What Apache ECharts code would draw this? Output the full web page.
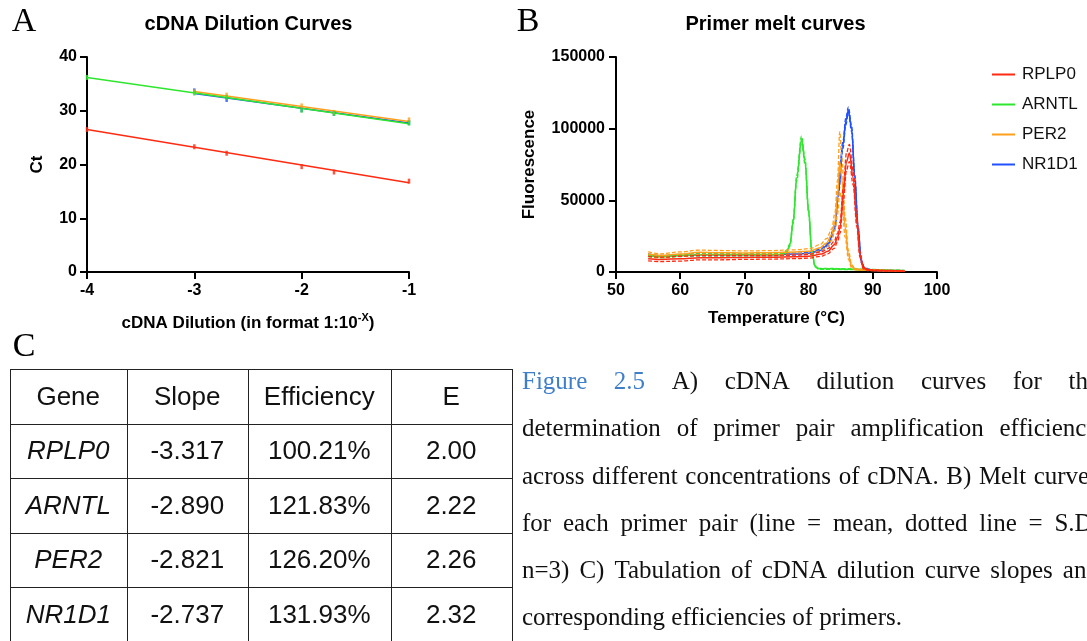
<!DOCTYPE html>
<html><head><meta charset="utf-8">
<script src="https://cdn.jsdelivr.net/npm/echarts@6/dist/echarts.min.js"></script>
<style>
html,body{margin:0;padding:0;width:1087px;height:641px;overflow:hidden;background:#fff;}
#chart{position:absolute;left:0;top:0;width:1087px;height:641px;}
#tbl{position:absolute;left:10px;top:369px;width:502px;height:280px;border-left:1.5px solid #222;border-top:1.5px solid #222;box-sizing:border-box;font-family:'Liberation Sans',Arial,sans-serif;font-size:26px;color:#111;}
.cell{position:absolute;box-sizing:border-box;border-right:1.5px solid #222;border-bottom:1.5px solid #222;display:flex;align-items:center;justify-content:center;}
#caption{position:absolute;left:522px;top:357px;width:577px;font-family:'Liberation Serif','Times New Roman',serif;font-size:25px;line-height:47.3px;color:#111;}
.ln{display:flex;justify-content:space-between;white-space:nowrap;height:47.3px;}
.ln.last{justify-content:flex-start;}
.ln.last span{margin-right:6.25px;}
.blue{color:#3f7fc8;}
</style>
</head><body>
<div id="chart"></div>
<div id="tbl"></div>
<div id="caption"></div>
<script>
// ---------- Panel A: cDNA dilution curves ----------
const dilutions = [-4, -3, -2.699, -2, -1.699, -1];
const ctRPLP0 = [26.5, 23.3, 22.1, 19.6, 18.6, 16.9];
const ctARNTL = [36.2, 33.3, 32.5, 30.1, 29.5, 27.7];
const ctPER2  = [null, 33.5, 32.9, 30.9, 29.7, 28.3];
const ctNR1D1 = [null, 33.7, 32.1, 30.2, 29.5, 27.8];
// fitted regression line end points [x, Ct]
const fitRPLP0 = [[-4, 26.5], [-1, 16.6]];
const fitARNTL = [[-4, 36.2], [-1, 27.6]];
const fitPER2  = [[-3, 33.6], [-1, 28.0]];
const fitNR1D1 = [[-3, 33.2], [-1, 27.7]];

// ---------- Panel B: melt curves (mean and S.D.) ----------
const rplp0T    = [55,57,60,63,66,70,74,78,80,82,83,84,84.5,84.9,85.4,85.9,86.35,86.95,87.5,88,88.5,89,90,92,95];
const rplp0Mean = [9300,8800,9300,10000,10000,10200,10300,10600,11000,12500,14500,19000,24000,31000,54000,77000,83000,65600,35400,12200,3000,1800,1200,900,600];
const rplp0Sd   = [1600,1500,1700,1500,1500,1400,1300,1300,1300,1500,1800,2500,3000,4000,5000,6000,6000,5000,3500,2000,800,400,300,200,200];

const arntlT    = [55,57,60,63,66,70,74,76,76.6,77.1,77.6,78.15,78.9,79.45,80,80.5,81,81.6,83,86,88,90,92,95];
const arntlMean = [11500,10500,11500,12000,12000,12000,12000,12200,14500,19000,35400,65600,92700,77000,42300,14500,4000,2200,2200,2000,1800,1500,1200,900];
const arntlSd   = [800,600,700,700,700,700,700,700,800,1000,1500,2000,2000,2000,1500,800,400,300,300,300,300,300,200,200];

const per2T     = [55,57,60,63,66,70,74,78,80.2,81.8,82.8,83.6,84.1,84.5,84.85,85.15,85.7,86.2,86.7,87.2,88,90,92,95];
const per2Mean  = [12500,11500,12500,13800,13500,13300,13500,14000,14500,17000,20300,26000,35000,52000,77000,66000,31000,12000,4000,2000,1500,1200,1000,800];
const per2Sd    = [1500,1200,1500,1500,1500,1400,1400,1500,1800,2200,3000,4000,6000,12000,21000,15000,7000,3000,1200,500,300,200,200,200];

const nr1d1T    = [55,57,60,63,66,70,74,78,80,81.8,83,84.1,84.6,85.35,85.8,86.2,86.7,87.2,87.7,88.2,88.7,90,92,95];
const nr1d1Mean = [12000,11000,11500,12000,12000,12000,12000,12500,13000,15000,19000,30700,54000,88700,105000,113000,100000,65600,30700,7500,2500,1200,1000,800];
const nr1d1Sd   = [600,500,600,600,600,600,600,600,700,800,1000,1500,2000,2500,2500,2000,2000,2000,1500,800,300,200,200,200];

const geneNames = ['RPLP0', 'ARNTL', 'PER2', 'NR1D1'];
const xTicksA = [-4, -3, -2, -1];
const yTicksA = [0, 10, 20, 30, 40];

// ---------- Panel C: table ----------
const tblHeader = ['Gene', 'Slope', 'Efficiency', 'E'];
const tblSlope = ['-3.317', '-2.890', '-2.821', '-2.737'];
const tblEff = ['100.21%', '121.83%', '126.20%', '131.93%'];
const tblE = ['2.00', '2.22', '2.26', '2.32'];

const captionLines = [
  'Figure 2.5 A) cDNA dilution curves for the',
  'determination of primer pair amplification efficiency',
  'across different concentrations of cDNA. B) Melt curves',
  'for each primer pair (line = mean, dotted line = S.D.',
  'n=3) C) Tabulation of cDNA dilution curve slopes and',
  'corresponding efficiencies of primers.'
];

const colors = {RPLP0: '#ff2a10', ARNTL: '#2ee62e', PER2: '#ff9f1c', NR1D1: '#2050ff'};
const FONT = 'Liberation Sans, Arial, sans-serif';

function zip(xs, ys) { return xs.map((x, i) => [x, ys[i]]); }

function axisBase() {
  return {
    axisLine: {show: true, onZero: false, lineStyle: {color: '#000', width: 2}},
    axisTick: {show: true, length: 7, lineStyle: {color: '#000', width: 2}},
    splitLine: {show: false},
    axisLabel: {color: '#000', fontWeight: 'bold', fontSize: 16, fontFamily: FONT, formatter: v => String(v)},
    nameTextStyle: {color: '#000', fontWeight: 'bold', fontSize: 17, fontFamily: FONT}
  };
}

const series = [];
// Panel A
const aOrder = [['RPLP0', ctRPLP0, fitRPLP0], ['NR1D1', ctNR1D1, fitNR1D1], ['PER2', ctPER2, fitPER2], ['ARNTL', ctARNTL, fitARNTL]];
aOrder.forEach(([g, ct, fit]) => {
  series.push({
    type: 'line', name: g + ' fit', xAxisIndex: 0, yAxisIndex: 0, data: fit,
    showSymbol: false, lineStyle: {color: colors[g], width: 1.5}, silent: true, z: 2
  });
  series.push({
    type: 'scatter', name: g + ' pts', xAxisIndex: 0, yAxisIndex: 0,
    data: zip(dilutions, ct).filter(p => p[1] !== null),
    symbol: 'rect', symbolSize: [2.5, 5], itemStyle: {color: colors[g]}, z: 3
  });
});
// Panel B
const bOrder = [['NR1D1', nr1d1T, nr1d1Mean, nr1d1Sd], ['ARNTL', arntlT, arntlMean, arntlSd], ['PER2', per2T, per2Mean, per2Sd], ['RPLP0', rplp0T, rplp0Mean, rplp0Sd]];
bOrder.forEach(([g, t, m, sd]) => {
  const common = {type: 'line', xAxisIndex: 1, yAxisIndex: 1, showSymbol: false, smooth: 0.35, smoothMonotone: 'x', silent: true};
  series.push(Object.assign({}, common, {
    name: g + ' +SD', data: t.map((x, i) => [x, m[i] + sd[i]]),
    lineStyle: {color: colors[g], width: 1.3, type: [4, 2]}
  }));
  series.push(Object.assign({}, common, {
    name: g + ' -SD', data: t.map((x, i) => [x, m[i] - sd[i]]),
    lineStyle: {color: colors[g], width: 1.3, type: [4, 2]}
  }));
  series.push(Object.assign({}, common, {
    name: g, data: zip(t, m), itemStyle: {color: colors[g]},
    lineStyle: {color: colors[g], width: 1.5}
  }));
});

const xA = Object.assign(axisBase(), {
  type: 'value', gridIndex: 0, min: xTicksA[0], max: xTicksA[xTicksA.length - 1], interval: 1,
  name: '{a|cDNA Dilution (in format 1:10}{s|-X}{a|)}', nameLocation: 'middle', nameGap: 40
});
xA.axisLabel.margin = 11;
xA.nameTextStyle.rich = {
  a: {fontSize: 17, fontWeight: 'bold', fontFamily: FONT, color: '#000', lineHeight: 22},
  s: {fontSize: 11, fontWeight: 'bold', fontFamily: FONT, color: '#000', verticalAlign: 'top', lineHeight: 12}
};
const yA = Object.assign(axisBase(), {
  type: 'value', gridIndex: 0, min: yTicksA[0], max: yTicksA[yTicksA.length - 1], interval: 10,
  name: 'Ct', nameLocation: 'middle', nameGap: 41
});
yA.axisLabel.margin = 10;
const xB = Object.assign(axisBase(), {
  type: 'value', gridIndex: 1, min: 50, max: 100, interval: 10,
  name: 'Temperature (°C)', nameLocation: 'middle', nameGap: 38
});
xB.axisLabel.margin = 11;
const yB = Object.assign(axisBase(), {
  type: 'value', gridIndex: 1, min: 0, max: 150000, interval: 50000,
  name: 'Fluorescence', nameLocation: 'middle', nameGap: 78
});
yB.axisLabel.margin = 11;

const chart = echarts.init(document.getElementById('chart'), null, {renderer: 'canvas'});
chart.setOption({
  animation: false,
  backgroundColor: '#fff',
  grid: [
    {left: 87, top: 57, width: 322, height: 215, containLabel: false, outerBoundsMode: 'none'},
    {left: 616, top: 57, width: 321, height: 215, containLabel: false, outerBoundsMode: 'none'}
  ],
  xAxis: [xA, xB],
  yAxis: [yA, yB],
  legend: {
    data: geneNames, orient: 'vertical', left: 987, top: 61, icon: 'rect',
    itemWidth: 23, itemHeight: 2, itemGap: 13, selectedMode: false,
    textStyle: {fontSize: 17, color: '#111', fontFamily: FONT, lineHeight: 17, padding: [0, 0, 0, 2]}
  },
  graphic: [
    {type: 'text', x: 24, y: 22, style: {text: 'A', fontSize: 34, fontFamily: 'Liberation Serif, serif', fill: '#000', align: 'center', verticalAlign: 'middle'}},
    {type: 'text', x: 528, y: 22, style: {text: 'B', fontSize: 34, fontFamily: 'Liberation Serif, serif', fill: '#000', align: 'center', verticalAlign: 'middle'}},
    {type: 'text', x: 24, y: 347, style: {text: 'C', fontSize: 34, fontFamily: 'Liberation Serif, serif', fill: '#000', align: 'center', verticalAlign: 'middle'}},
    {type: 'text', x: 248.5, y: 24, style: {text: 'cDNA Dilution Curves', fontSize: 20, fontWeight: 'bold', fontFamily: FONT, fill: '#000', align: 'center', verticalAlign: 'middle'}},
    {type: 'text', x: 775.5, y: 24, style: {text: 'Primer melt curves', fontSize: 20, fontWeight: 'bold', fontFamily: FONT, fill: '#000', align: 'center', verticalAlign: 'middle'}}
  ],
  series: series
});

// ---------- table ----------
const colEdges = [0, 117, 238, 381, 502];
const rowEdges = [0, 54.5, 109, 163.5, 218, 272.5];
const tbl = document.getElementById('tbl');
const rows = [tblHeader].concat(geneNames.map((g, i) => [g, tblSlope[i], tblEff[i], tblE[i]]));
rows.forEach((r, ri) => {
  r.forEach((txt, ci) => {
    const d = document.createElement('div');
    d.className = 'cell';
    d.style.left = (colEdges[ci] - 1.5) + 'px';
    d.style.top = (rowEdges[ri] - 1.5) + 'px';
    d.style.width = (colEdges[ci + 1] - colEdges[ci] + 1.5) + 'px';
    d.style.height = (rowEdges[ri + 1] - rowEdges[ri] + 1.5) + 'px';
    if (ri > 0 && ci === 0) d.style.fontStyle = 'italic';
    d.textContent = txt;
    tbl.appendChild(d);
  });
});

// ---------- caption ----------
const cap = document.getElementById('caption');
captionLines.forEach((line, li) => {
  const d = document.createElement('div');
  d.className = 'ln' + (li === captionLines.length - 1 ? ' last' : '');
  line.split(' ').forEach((w, wi) => {
    const s = document.createElement('span');
    s.textContent = w;
    if (li === 0 && wi < 2) s.className = 'blue';
    d.appendChild(s);
  });
  cap.appendChild(d);
});
</script>
</body></html>
